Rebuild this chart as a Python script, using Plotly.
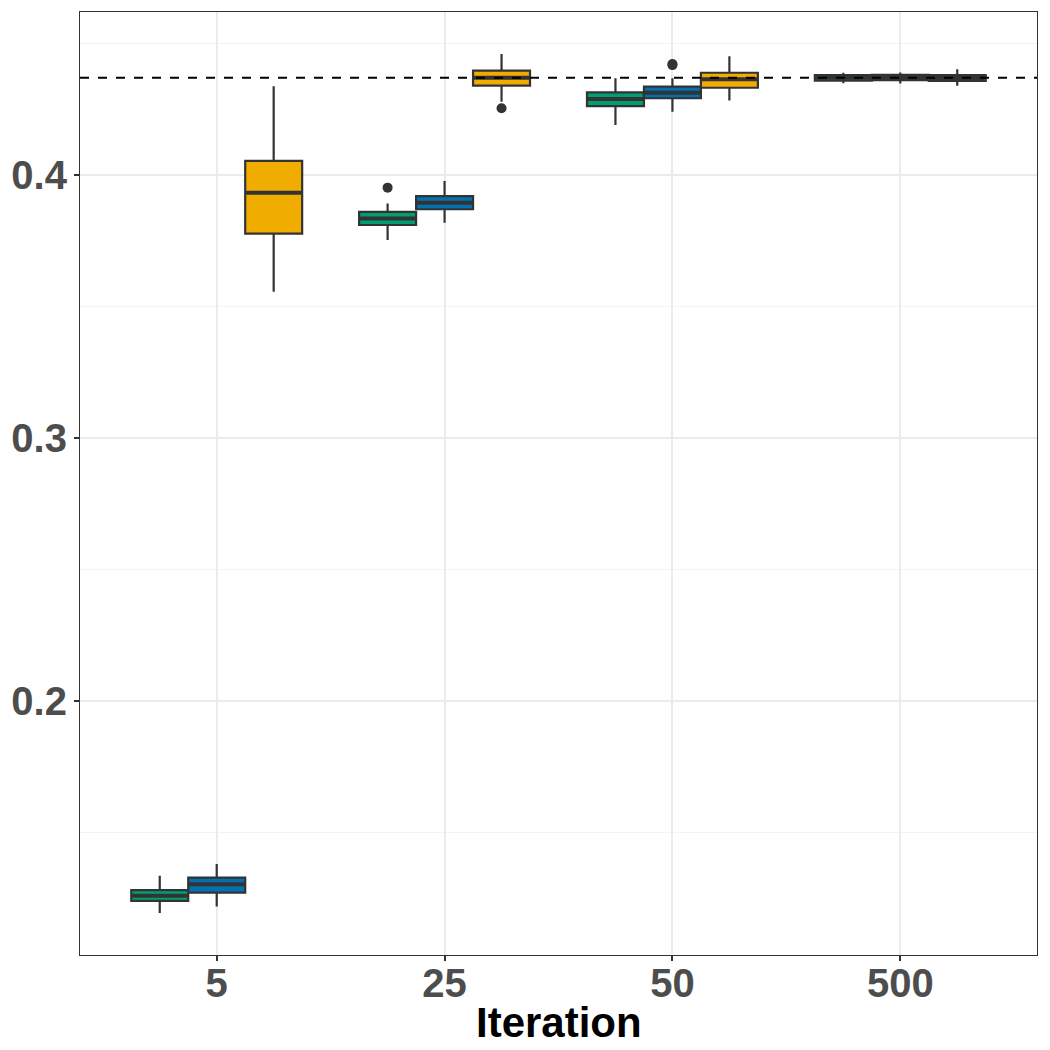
import plotly.graph_objects as go

categories = ["5", "25", "50", "500"]
series = ["A", "B", "C"]
colors = ["#009E73", "#0072B2", "#F0AD00"]
offsets = [-0.25, 0.0, 0.25]

# per series: lists over categories
q1 = [
    [0.1240, 0.3810, 0.4262, 0.4359],
    [0.1271, 0.3870, 0.4292, 0.4361],
    [0.3777, 0.4340, 0.4332, 0.4358],
]
median = [
    [0.1259, 0.3835, 0.4289, 0.4370],
    [0.1303, 0.3895, 0.4313, 0.4371],
    [0.3933, 0.4370, 0.4364, 0.4369],
]
q3 = [
    [0.1281, 0.3860, 0.4314, 0.4380],
    [0.1328, 0.3920, 0.4336, 0.4381],
    [0.4054, 0.4397, 0.4389, 0.4380],
]
lower = [
    [0.1194, 0.3753, 0.4190, 0.4349],
    [0.1218, 0.3819, 0.4241, 0.4348],
    [0.3556, 0.4279, 0.4283, 0.4340],
]
upper = [
    [0.1335, 0.3892, 0.4368, 0.4389],
    [0.1380, 0.3977, 0.4368, 0.4390],
    [0.4338, 0.4460, 0.4452, 0.4402],
]
# outliers: (series index, category index, value)
outliers = [
    (0, 1, 0.3952),
    (1, 2, 0.4418),
    (1, 2, 0.4422),
    (2, 1, 0.4254),
]
reference_value = 0.437

box_w = 0.25
line_col = "#333333"

fig = go.Figure()
for s in range(3):
    xs = [i + offsets[s] for i in range(len(categories))]
    fig.add_trace(go.Box(
        x=xs, q1=q1[s], median=median[s], q3=q3[s],
        lowerfence=lower[s], upperfence=upper[s],
        width=box_w, fillcolor=colors[s],
        line=dict(color=line_col, width=2.2),
        boxpoints=False, whiskerwidth=0, showlegend=False,
        hoverinfo="skip",
    ))
    # thicker median lines
    mx, my = [], []
    for i, x in enumerate(xs):
        mx += [x - box_w / 2 + 0.004, x + box_w / 2 - 0.004, None]
        my += [median[s][i], median[s][i], None]
    fig.add_trace(go.Scatter(x=mx, y=my, mode="lines",
                             line=dict(color=line_col, width=4),
                             showlegend=False, hoverinfo="skip"))

ox = [i + offsets[s] for s, i, v in outliers]
oy = [v for s, i, v in outliers]
fig.add_trace(go.Scatter(x=ox, y=oy, mode="markers",
                         marker=dict(color=line_col, size=10),
                         showlegend=False, hoverinfo="skip"))

fig.add_hline(y=reference_value, line=dict(color="black", width=2, dash="dash"))

tick_font = dict(family="Liberation Sans", size=40, color="#4D4D4D", weight="bold")
fig.update_layout(
    width=1050, height=1050,
    margin=dict(l=80, r=13, t=12, b=95),
    plot_bgcolor="white", paper_bgcolor="white",
    font=dict(family="Liberation Sans"),
    annotations=[dict(text="<b>Iteration</b>", xref="paper", yref="paper",
                      x=0.5, y=-0.072, xanchor="center", yanchor="middle",
                      showarrow=False,
                      font=dict(family="Liberation Sans", size=42, color="black"))],
)
fig.update_xaxes(
    range=[-0.6, 3.6], tickmode="array", automargin=False,
    tickvals=list(range(len(categories))), ticktext=categories,
    tickfont=tick_font, showgrid=True, gridcolor="#EBEBEB", gridwidth=1.5,
    zeroline=False, showline=True, linecolor="#333333", linewidth=1.2, mirror=True,
    ticks="outside", ticklen=5, tickcolor="#333333", tickwidth=1.5,
    ticklabelstandoff=-12,
)
fig.update_yaxes(
    range=[0.1034, 0.462], tickmode="array", automargin=False,
    tickvals=[0.2, 0.3, 0.4], ticktext=["0.2", "0.3", "0.4"],
    tickfont=tick_font, showgrid=True, gridcolor="#EBEBEB", gridwidth=1.5,
    minor=dict(tickvals=[0.15, 0.25, 0.35, 0.45], showgrid=True,
               gridcolor="#F3F3F3", gridwidth=1, ticks=""),
    zeroline=False, showline=True, linecolor="#333333", linewidth=1.2, mirror=True,
    ticks="outside", ticklen=5, tickcolor="#333333", tickwidth=1.5,
    ticklabelstandoff=-1,
)

fig.write_html("out.html")
